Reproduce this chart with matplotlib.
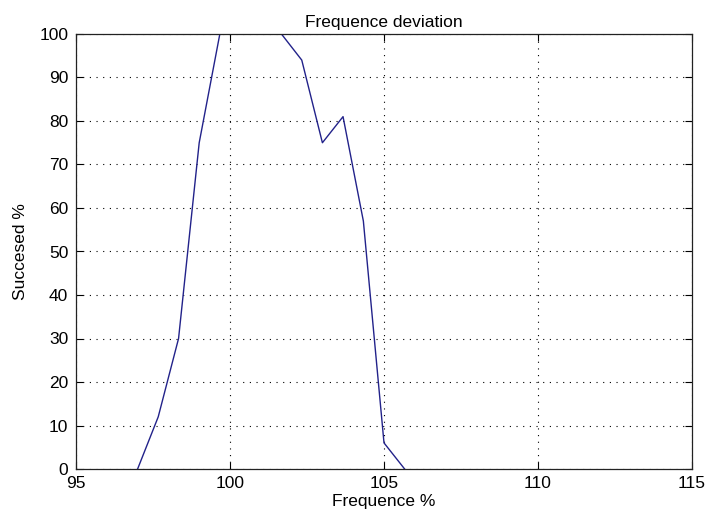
import matplotlib
matplotlib.use("Agg")
import matplotlib.pyplot as plt

freq = [97.0, 97.67, 98.33, 99.0, 99.67, 100.33, 101.0, 101.67,
        102.33, 103.0, 103.67, 104.33, 105.0, 105.67]
success = [0, 12, 30, 75, 100, 100, 100, 100, 94, 75, 81, 57, 6, 0]

xticks = [95, 100, 105, 110, 115]
yticks = [0, 10, 20, 30, 40, 50, 60, 70, 80, 90, 100]

plt.rcParams['font.family'] = ['Liberation Sans', 'DejaVu Sans']
FS = 12.5

fig = plt.figure(figsize=(7.08, 5.19), dpi=100)
ax = fig.add_axes([76/708, 1-469/519, 616/708, 435/519])
ax.plot(freq, success, color='#22228a', linewidth=1.0, clip_on=True)
ax.set_xlim(95, 115)
ax.set_ylim(0, 100)
ax.set_xticks(xticks)
ax.set_yticks(yticks)
ax.grid(True, linestyle=(0, (1, 5)), color='black', linewidth=0.8)
ax.tick_params(direction='in', top=True, right=True, labelsize=FS, length=5, width=0.8)
ax.tick_params(axis='x', pad=5)
ax.tick_params(axis='y', pad=5.5)
for s in ax.spines.values():
    s.set_linewidth(0.9)
    s.set_color('#222222')
ax.set_title('Frequence deviation', fontsize=FS, pad=5)
ax.set_xlabel('Frequence %', fontsize=FS, labelpad=2.5)
ax.set_ylabel('Succesed %', fontsize=FS, labelpad=8)
fig.savefig('out.png', dpi=100)
